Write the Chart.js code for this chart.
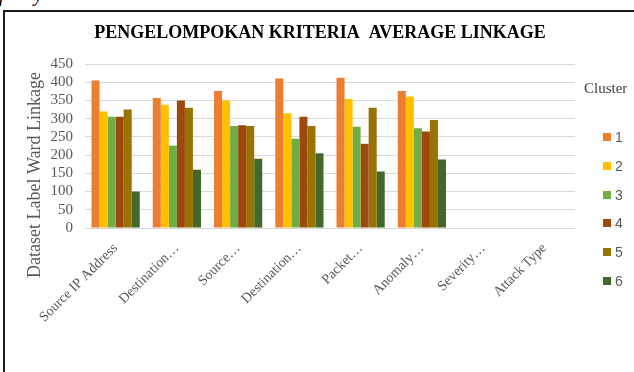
<!DOCTYPE html>
<html>
<head>
<meta charset="utf-8">
<script src="https://cdn.jsdelivr.net/npm/chart.js@4"></script>
<style>
  html, body { margin: 0; padding: 0; background: #fff; overflow: hidden; }
  #wrap { position: relative; width: 634px; height: 372px; }
  #chart { position: absolute; left: 0; top: 0; }
  .frame {
    position: absolute; left: 3px; top: 10px; width: 700px; height: 420px;
    border: 2px solid #1a1a1a; box-sizing: border-box;
  }
  .cut {
    position: absolute; top: -17px; font: italic 20px "Liberation Serif", serif; color: #000;
  }
  #legend { position: absolute; left: 584px; top: 80px; font-family: "Liberation Sans", sans-serif; }
  #legend .head { font: 15px "Liberation Serif", serif; color: #404040; height: 24px; }
  #legend .item { position: absolute; left: 19px; font-size: 14px; color: #595959; line-height: 16px; white-space: nowrap; }
  #legend .box { display: inline-block; width: 8px; height: 8px; margin-right: 4px; vertical-align: 1px; }
</style>
</head>
<body>
<div id="wrap">
  <span class="cut" style="left:-1px">f</span>
  <span class="cut" style="left:34px">y</span>
  <div class="frame"></div>
  <canvas id="chart" width="634" height="372"></canvas>
  <div id="legend"></div>
</div>
<script>
// criteria on the x axis (long names cut short the way the source did)
const categories = [
  'Source IP Address', 'Destination…', 'Source…', 'Destination…',
  'Packet…', 'Anomaly…', 'Severity…', 'Attack Type'
];
const clusterNames = ['1', '2', '3', '4', '5', '6'];
const clusterColors = ['#ED7D31', '#FFC000', '#70AD47', '#9E480E', '#997300', '#43682B'];

// average-linkage values per cluster, one entry per criterion
const cluster1 = [405, 357, 376, 410, 412, 376, null, null];
const cluster2 = [320, 338, 350, 315, 354, 361, null, null];
const cluster3 = [305, 226, 280, 245, 278, 274, null, null];
const cluster4 = [305, 350, 282, 305, 231, 265, null, null];
const cluster5 = [325, 330, 280, 280, 330, 296, null, null];
const cluster6 = [100, 160, 190, 205, 155, 188, null, null];
const clusterValues = [cluster1, cluster2, cluster3, cluster4, cluster5, cluster6];

const yMin = 0;
const yMax = 450;
const yStep = 50;

const chartTitle = 'PENGELOMPOKAN KRITERIA  AVERAGE LINKAGE';
const yTitle = 'Dataset Label Ward Linkage';

const SERIF = '"Liberation Serif", "Times New Roman", serif';
const GREY = '#595959';

// chart title and y axis title are placed on the whole frame, not the plot
const frameText = {
  id: 'frameText',
  afterDraw(chart) {
    const ctx = chart.ctx;
    ctx.save();
    ctx.textAlign = 'center';
    ctx.textBaseline = 'middle';

    ctx.font = 'bold 18px ' + SERIF;
    ctx.fillStyle = '#000';
    ctx.fillText(chartTitle, 320, 33);

    ctx.translate(35, 175);
    ctx.rotate(-Math.PI / 2);
    ctx.font = '18px ' + SERIF;
    ctx.fillStyle = GREY;
    ctx.fillText(yTitle, 0, 0);
    ctx.restore();
  }
};

const chart = new Chart(document.getElementById('chart'), {
  type: 'bar',
  data: {
    labels: categories,
    datasets: clusterValues.map((vals, i) => ({
      label: clusterNames[i],
      data: vals,
      backgroundColor: clusterColors[i],
      borderWidth: 0,
      barPercentage: 1,
      categoryPercentage: 0.787
    }))
  },
  options: {
    responsive: false,
    animation: false,
    events: [],
    layout: { padding: { left: 20, right: 59, top: 64, bottom: 0 } },
    plugins: {
      legend: { display: false },
      tooltip: { enabled: false },
      title: { display: false }
    },
    scales: {
      x: {
        grid: { display: false },
        border: { display: false },
        ticks: {
          color: GREY,
          font: { family: SERIF, size: 14 },
          minRotation: 45,
          maxRotation: 45,
          autoSkip: false,
          padding: 4
        },
        afterFit(scale) { scale.height = 144; }
      },
      y: {
        min: yMin,
        max: yMax,
        border: { display: false },
        grid: { color: '#d9d9d9', lineWidth: 1, drawTicks: false },
        ticks: {
          stepSize: yStep,
          autoSkip: false,
          color: GREY,
          font: { family: SERIF, size: 15 },
          padding: 12
        },
        afterFit(scale) { scale.width = 65; }
      }
    }
  },
  plugins: [frameText]
});

// legend on the right, built from the same dataset list
const legendEl = document.getElementById('legend');
legendEl.innerHTML = '<div class="head">Cluster</div>' +
  chart.data.datasets.map((ds, i) =>
    `<div class="item" style="top:${49 + i * 28.8}px"><span class="box" style="background:${ds.backgroundColor}"></span>${ds.label}</div>`
  ).join('');
</script>
</body>
</html>
